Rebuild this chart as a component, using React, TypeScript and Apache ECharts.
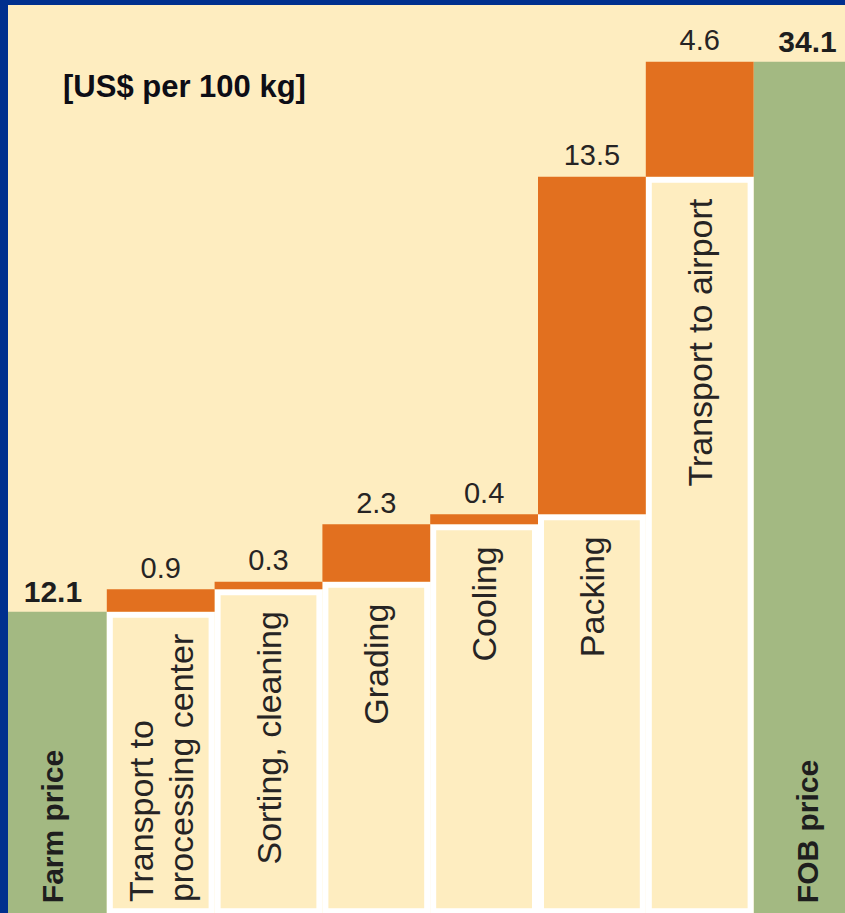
import React, { useEffect, useRef } from "react";
import * as echarts from "echarts";

const categories = [
  "Farm price",
  "Transport to\nprocessing center",
  "Sorting, cleaning",
  "Grading",
  "Cooling",
  "Packing",
  "Transport to airport",
  "FOB price",
];
const farmPrice = 12.1;
const stepCosts = [0.9, 0.3, 2.3, 0.4, 13.5, 4.6];
const fobPrice = 34.1;
const unitLabel = "[US$ per 100 kg]";

const FONT = '"Liberation Sans", Arial, sans-serif';
const CREAM = "#FEEDC0";
const ORANGE = "#E2701F";
const GREEN = "#A3B982";
const BLUE = "#00308E";
const INK = "#262424";

export default function App() {
  const ref = useRef<HTMLDivElement>(null);

  useEffect(() => {
    if (!ref.current) return;
    const chart = echarts.init(ref.current, null, { renderer: "svg" });

    const n = categories.length;
    const bases: number[] = [];
    let acc = farmPrice;
    stepCosts.forEach((c) => {
      bases.push(+acc.toFixed(2));
      acc += c;
    });
    const dash = "-";
    const totalData: any[] = categories.map((_, i) =>
      i === 0 ? farmPrice : i === n - 1 ? fobPrice : dash
    );
    const capData: any[] = categories.map((_, i) => (i === 0 || i === n - 1 ? 0 : dash));
    const baseData: any[] = categories.map((_, i) =>
      i === 0 || i === n - 1 ? dash : bases[i - 1]
    );
    const costData: any[] = categories.map((_, i) =>
      i === 0 || i === n - 1 ? dash : stepCosts[i - 1]
    );

    chart.setOption({
      animation: false,
      backgroundColor: CREAM,
      title: {
        text: unitLabel,
        left: 63,
        top: 71,
        padding: 0,
        textStyle: {
          fontFamily: FONT,
          fontWeight: "bold",
          fontSize: 31,
          color: "#0d0d16",
        },
      },
      grid: {
        left: -1,
        top: 0,
        width: 862.4,
        height: 914.2,
        outerBoundsMode: "none",
        containLabel: false,
      },
      xAxis: {
        type: "category",
        data: categories,
        show: false,
      },
      yAxis: {
        type: "value",
        min: 0,
        max: 36.57,
        show: false,
        splitLine: { show: false },
      },
      series: [
        {
          name: "total",
          type: "bar",
          stack: "w",
          barCategoryGap: 0,
          data: totalData,
          itemStyle: { color: GREEN },
          label: {
            show: true,
            position: "insideBottom",
            rotate: 90,
            align: "left",
            verticalAlign: "middle",
            distance: 11,
            formatter: "{b}",
            fontFamily: FONT,
            fontWeight: "bold",
            fontSize: 30,
            color: "#1e1e1e",
          },
        },
        {
          name: "totalValue",
          type: "bar",
          stack: "w",
          data: capData,
          itemStyle: { color: GREEN },
          label: {
            show: true,
            position: "top",
            distance: 5,
            formatter: (p: any) => String(p.dataIndex === 0 ? farmPrice : fobPrice),
            fontFamily: FONT,
            fontWeight: "bold",
            fontSize: 30,
            color: "#1e1e1e",
          },
        },
        {
          name: "base",
          type: "bar",
          stack: "w",
          data: baseData,
          itemStyle: { color: CREAM, borderColor: "#ffffff", borderWidth: 6 },
          label: {
            show: true,
            position: "insideTop",
            rotate: 90,
            align: "right",
            verticalAlign: "middle",
            distance: 22,
            formatter: (p: any) =>
              String(p.name)
                .split("\n")
                .map((s: string) => `{l|${s}}`)
                .join("\n"),
            rich: {
              l: {
                align: "left",
                fontFamily: FONT,
                fontSize: 34,
                lineHeight: 40,
                color: INK,
              },
            },
          },
        },
        {
          name: "cost",
          type: "bar",
          stack: "w",
          data: costData,
          itemStyle: { color: ORANGE },
          label: {
            show: true,
            position: "top",
            distance: 7,
            formatter: "{c}",
            fontFamily: FONT,
            fontSize: 29,
            color: INK,
          },
        },
      ],
      graphic: [
        {
          type: "rect",
          left: 0,
          top: 0,
          z: 100,
          shape: { width: 8, height: 913 },
          style: { fill: BLUE },
        },
        {
          type: "rect",
          left: 0,
          top: 0,
          z: 100,
          shape: { width: 845, height: 5 },
          style: { fill: BLUE },
        },
      ],
    });

    return () => chart.dispose();
  }, []);

  return (
    <div
      ref={ref}
      style={{ position: "fixed", left: 0, top: 0, width: 845, height: 913 }}
    />
  );
}
